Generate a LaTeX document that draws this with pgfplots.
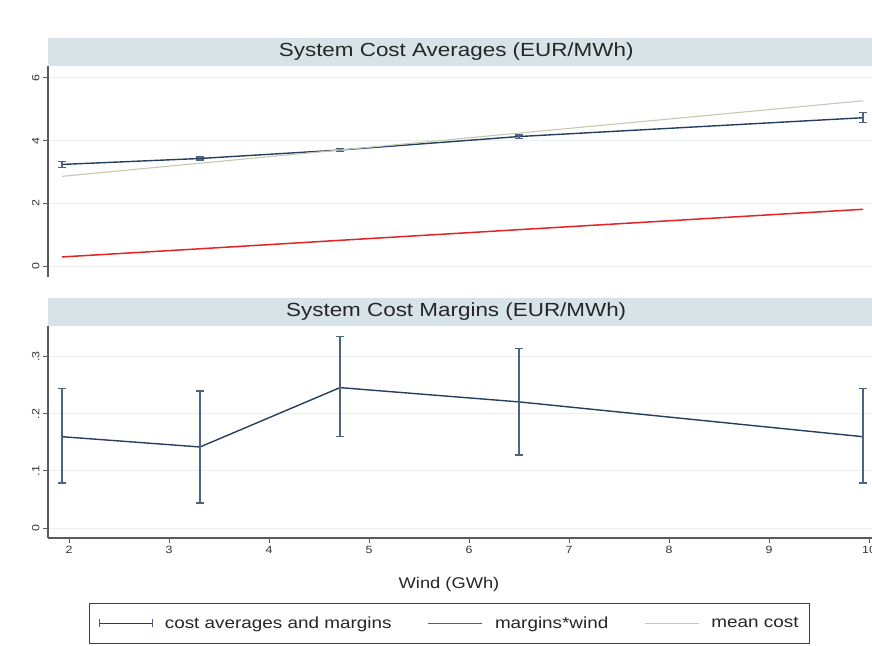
\documentclass[border=0pt]{standalone}
\usepackage{fontspec}
\setmainfont{Liberation Sans}[FakeStretch=1.18]
\usepackage{pgfplots}
\pgfplotsset{compat=1.18}
\usepackage{pgfplotstable}

\definecolor{navy}{RGB}{36,62,94}
\definecolor{ebar}{RGB}{78,100,126}
\definecolor{redl}{RGB}{226,36,36}
\definecolor{meanc}{RGB}{196,202,176}
\definecolor{barbg}{RGB}{216,227,232}
\definecolor{axgray}{RGB}{90,90,90}
\definecolor{gridc}{RGB}{234,239,241}

% x = wind (GWh); avg/ap/am = cost average and its error; mar/mp/mm = margin and its error
\pgfplotstableread{
x    avg  ap   am   mar   mp    mm    mean  mw
1.93 3.24 0.09 0.09 0.160 0.084 0.081 2.86 0.29
3.31 3.43 0.05 0.05 0.142 0.098 0.098 3.28 0.55
4.71 3.70 0.04 0.04 0.246 0.089 0.086 3.70 0.82
6.50 4.13 0.05 0.05 0.221 0.093 0.093 4.24 1.16
9.94 4.73 0.16 0.16 0.160 0.084 0.081 5.27 1.81
}\data

\pgfplotsset{
  panel/.style={
    scale only axis, width=824pt,
    xmin=1.79, xmax=10.03,
    axis y line*=left,
    tick align=outside, major tick length=5pt,
    axis line style={axgray, line width=1.3pt},
    every tick/.style={axgray, line width=1pt},
    ymajorgrids, grid style={gridc, line width=1pt},
    every axis title shift=0pt,
    title style={at={(0,1)}, anchor=south west, fill=barbg,
      minimum width=830pt, minimum height=28pt, inner sep=0pt,
      font=\fontsize{19}{20}\selectfont, text=black!85},
    /pgf/number format/assume math mode=true,
    yticklabel style={rotate=90, anchor=south, font=\fontsize{10.5}{11}\selectfont, text=black!80},
    xticklabel style={font=\fontsize{10.5}{11}\selectfont, text=black!80},
  },
  ebars/.style={
    error bars/y dir=both, error bars/y explicit,
    error bars/error bar style={ebar, line width=1.2pt},
    error bars/error mark options={ebar, rotate=90, mark size=4pt, line width=1.2pt}},
  wkey/.style={legend image code/.code={\draw[##1] (0pt,0pt) -- (54pt,0pt);}},
  capline/.style={legend image code/.code={
    \draw[navy, line width=1.3pt] (0pt,0pt) -- (53pt,0pt);
    \draw[ebar, line width=1.2pt] (0pt,-4pt) -- (0pt,4pt) (53pt,-4pt) -- (53pt,4pt);}},
}

\begin{document}
\begin{tikzpicture}[x=1pt,y=1pt]
\path[use as bounding box] (0,0) rectangle (872,645);

\begin{axis}[panel, at={(48pt,368pt)}, anchor=south west, height=211pt,
  axis x line=none,
  ymin=-0.35, ymax=6.38, ytick={0,2,4,6},
  title={\hspace*{-14pt}System Cost Averages (EUR/MWh)},
  legend columns=3,
  legend style={at={(0.4873,-1.545)}, anchor=north, draw=black!75, line width=0.8pt,
    font=\fontsize{16}{17}\selectfont, text=black!85, inner ysep=11.5pt, inner xsep=9pt,
    /tikz/every odd column/.append style={column sep=10pt},
    /tikz/every even column/.append style={column sep=34pt}},
  legend cell align=left]
\addplot[navy, line width=1.4pt, ebars, capline] table[x=x, y=avg, y error plus=ap, y error minus=am] {\data};
\addlegendentry{cost averages and margins}
\addplot[redl, line width=1.5pt, wkey] table[x=x, y=mw] {\data};
\addlegendentry{margins*wind}
\addplot[meanc, line width=1.1pt, wkey] table[x=x, y=mean] {\data};
\addlegendentry{mean cost}
\end{axis}

\begin{axis}[panel, at={(48pt,107pt)}, anchor=south west, height=212pt,
  axis x line*=bottom,
  ymin=-0.0175, ymax=0.354, ytick={0,0.1,0.2,0.3}, yticklabels={0,.1,.2,.3},
  xtick={2,3,4,5,6,7,8,9,10},
  title={\hspace*{-14pt}System Cost Margins (EUR/MWh)},
  xlabel={Wind (GWh)},
  xlabel style={font=\fontsize{15.5}{17}\selectfont, text=black!85, yshift=-16pt, xshift=-11pt}]
\addplot[navy, line width=1.4pt, ebars]
  table[x=x, y=mar, y error plus=mp, y error minus=mm] {\data};
\end{axis}
\end{tikzpicture}
\end{document}
